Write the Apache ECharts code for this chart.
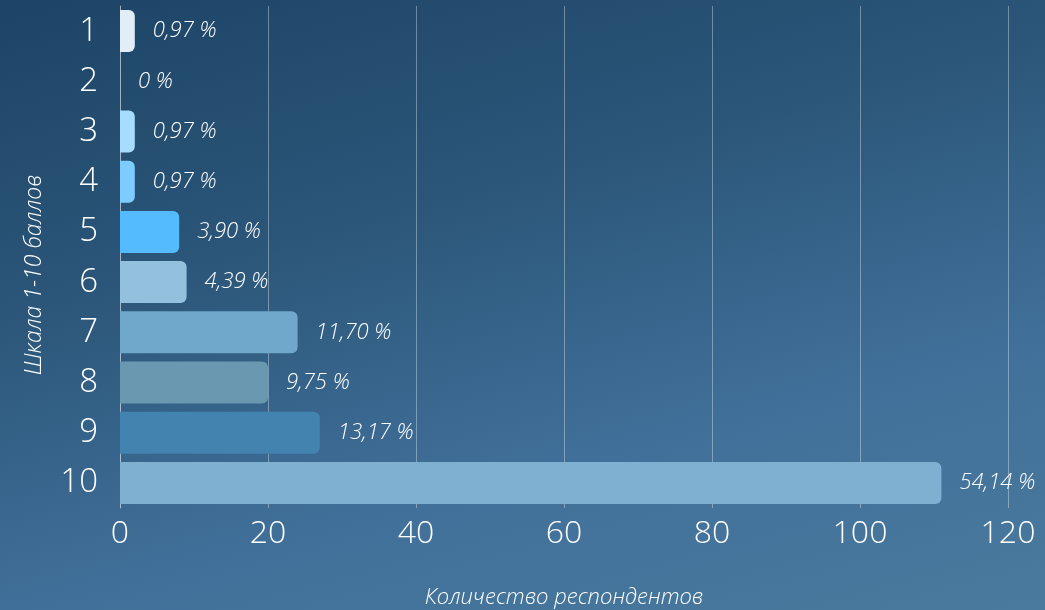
<!DOCTYPE html>
<html><head><meta charset="utf-8">
<script src="https://cdn.jsdelivr.net/npm/echarts@6/dist/echarts.min.js"></script>
<style>
html,body{margin:0;padding:0;width:1045px;height:610px;overflow:hidden;}
body{background:linear-gradient(165deg,#1d4466 0%,#2b5679 35%,#41709a 70%,#4a7a9d 100%);}
#c{width:1045px;height:610px;}
</style></head><body>
<div id="c"></div>
<script>
const categories = ['1','2','3','4','5','6','7','8','9','10'];
const counts = [2,0,2,2,8,9,24,20,27,111];
const percentLabels = ['0,97 %','0 %','0,97 %','0,97 %','3,90 %','4,39 %','11,70 %','9,75 %','13,17 %','54,14 %'];
const barColors = ['#e2eef7','#c8e6fb','#a8dcff','#7dcbff','#55bbff','#93c0dc','#6fa8cb','#6a98b0','#4283b0','#7fafd1'];
const xTicks = {min:0,max:120,interval:20};
const FONT = 'Open Sans';

const chart = echarts.init(document.getElementById('c'));
chart.setOption({
  backgroundColor:'transparent',
  textStyle:{fontFamily:FONT},
  grid:{left:120,right:37,top:6,bottom:102,outerBoundsMode:'none',containLabel:false},
  xAxis:{type:'value',min:xTicks.min,max:xTicks.max,interval:xTicks.interval,
    name:'Количество респондентов',nameLocation:'middle',nameGap:79,
    nameTextStyle:{color:'#ffffff',fontSize:22,fontStyle:'italic',fontWeight:300,fontFamily:FONT},
    axisLine:{show:false},axisTick:{show:false},
    axisLabel:{color:'#ffffff',fontSize:32,margin:10,fontFamily:FONT,fontWeight:300},
    splitLine:{show:true,lineStyle:{color:'rgba(255,255,255,0.35)',width:1}}},
  yAxis:{type:'category',data:categories,inverse:true,
    name:'Шкала 1-10 баллов',nameLocation:'middle',nameGap:74,nameRotate:90,
    nameTextStyle:{color:'#ffffff',fontSize:23,fontStyle:'italic',fontWeight:300,fontFamily:FONT,padding:[0,36,0,0]},
    axisLine:{show:true,lineStyle:{color:'rgba(255,255,255,0.35)'}},axisTick:{show:false},
    axisLabel:{color:'#ffffff',fontSize:33,margin:22,fontFamily:FONT,fontWeight:300}},
  series:[{type:'bar',barWidth:42,
    data:counts.map((v,i)=>({value:v,itemStyle:{color:barColors[i]}})),
    itemStyle:{borderRadius:[0,6,6,0]},
    label:{show:true,position:'right',distance:18,color:'#ffffff',fontSize:22,fontStyle:'italic',fontWeight:300,fontFamily:FONT,
      formatter:p=>percentLabels[p.dataIndex]}}]
});
</script></body></html>
